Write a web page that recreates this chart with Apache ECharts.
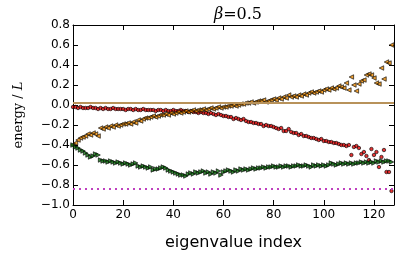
<!DOCTYPE html>
<html><head><meta charset="utf-8">
<script src="https://cdn.jsdelivr.net/npm/echarts@6/dist/echarts.min.js"></script>
<style>html,body{margin:0;padding:0;background:#fff}#c{width:415px;height:257px}</style>
</head><body><div id="c"></div>
<script>
// series values, one per eigenvalue index 0..127
const redCircles = [
-0.02,-0.02,-0.03,-0.02,-0.03,-0.03,-0.03,-0.02,-0.03,-0.03,
-0.04,-0.03,-0.04,-0.03,-0.04,-0.04,-0.03,-0.04,-0.04,-0.04,
-0.04,-0.05,-0.04,-0.04,-0.05,-0.04,-0.05,-0.05,-0.04,-0.05,
-0.05,-0.05,-0.05,-0.06,-0.05,-0.05,-0.06,-0.05,-0.06,-0.06,
-0.05,-0.06,-0.06,-0.05,-0.06,-0.06,-0.07,-0.06,-0.07,-0.07,
-0.08,-0.07,-0.08,-0.08,-0.09,-0.08,-0.09,-0.10,-0.09,-0.10,
-0.11,-0.11,-0.12,-0.12,-0.14,-0.13,-0.14,-0.15,-0.14,-0.16,
-0.17,-0.17,-0.18,-0.18,-0.19,-0.19,-0.21,-0.20,-0.21,-0.21,
-0.22,-0.23,-0.24,-0.23,-0.26,-0.26,-0.24,-0.27,-0.28,-0.28,
-0.30,-0.29,-0.31,-0.31,-0.32,-0.33,-0.33,-0.34,-0.35,-0.34,
-0.36,-0.36,-0.37,-0.37,-0.38,-0.38,-0.39,-0.40,-0.40,-0.41,
-0.40,-0.50,-0.42,-0.41,-0.43,-0.49,-0.47,-0.51,-0.55,-0.44,
-0.50,-0.47,-0.62,-0.52,-0.45,-0.67,-0.67,-0.86];
const orangeTriangles = [
-0.40,-0.38,-0.35,-0.33,-0.32,-0.31,-0.29,-0.30,-0.28,-0.29,
-0.31,-0.23,-0.24,-0.22,-0.23,-0.21,-0.22,-0.20,-0.21,-0.20,
-0.19,-0.19,-0.18,-0.19,-0.17,-0.18,-0.15,-0.16,-0.14,-0.13,
-0.13,-0.12,-0.11,-0.12,-0.11,-0.10,-0.10,-0.09,-0.10,-0.08,
-0.09,-0.08,-0.07,-0.08,-0.07,-0.06,-0.07,-0.06,-0.05,-0.06,
-0.05,-0.05,-0.04,-0.05,-0.04,-0.03,-0.04,-0.03,-0.02,-0.03,
-0.02,-0.02,-0.01,-0.01,0.00,-0.01,0.00,0.01,0.01,0.02,
0.02,0.03,0.02,0.03,0.04,0.04,0.05,0.03,0.04,0.05,
0.06,0.05,0.07,0.06,0.08,0.07,0.10,0.08,0.09,0.08,
0.10,0.09,0.11,0.10,0.12,0.13,0.12,0.13,0.14,0.13,
0.15,0.16,0.15,0.17,0.16,0.17,0.19,0.18,0.17,0.22,
0.15,0.28,0.20,0.14,0.21,0.24,0.25,0.30,0.31,0.30,
0.27,0.22,0.21,0.37,0.26,0.43,0.42,0.60];
const greenTriangles = [
-0.40,-0.42,-0.43,-0.45,-0.46,-0.48,-0.50,-0.52,-0.51,-0.49,
-0.50,-0.55,-0.56,-0.56,-0.57,-0.56,-0.57,-0.58,-0.57,-0.58,
-0.59,-0.58,-0.59,-0.60,-0.59,-0.58,-0.61,-0.62,-0.61,-0.62,
-0.63,-0.62,-0.65,-0.64,-0.64,-0.63,-0.62,-0.63,-0.65,-0.66,
-0.67,-0.68,-0.69,-0.70,-0.70,-0.71,-0.69,-0.68,-0.69,-0.67,
-0.68,-0.67,-0.66,-0.68,-0.67,-0.69,-0.67,-0.68,-0.66,-0.70,
-0.67,-0.66,-0.65,-0.66,-0.67,-0.65,-0.66,-0.64,-0.65,-0.64,
-0.65,-0.64,-0.63,-0.64,-0.63,-0.63,-0.62,-0.63,-0.62,-0.62,
-0.61,-0.62,-0.62,-0.61,-0.62,-0.61,-0.61,-0.62,-0.61,-0.61,
-0.60,-0.61,-0.61,-0.60,-0.61,-0.62,-0.60,-0.61,-0.60,-0.61,
-0.60,-0.61,-0.60,-0.58,-0.59,-0.60,-0.59,-0.58,-0.59,-0.58,
-0.59,-0.58,-0.59,-0.58,-0.58,-0.57,-0.58,-0.57,-0.58,-0.57,
-0.58,-0.56,-0.57,-0.56,-0.57,-0.56,-0.56,-0.57];
const upperLevel = 0.02;
const lowerLevel = -0.84;
const xTicks = [0, 20, 40, 60, 80, 100, 120];
const yTicks = [-1.0, -0.8, -0.6, -0.4, -0.2, 0.0, 0.2, 0.4, 0.6, 0.8];

const pts = arr => arr.map((v, i) => [i, v]);
const fmtY = v => { let s = (Math.round(v * 10) / 10).toFixed(1); if (s === '-0.0') s = '0.0'; return s.replace('-', '\u2212'); };

const chart = echarts.init(document.getElementById('c'), null, {renderer: 'canvas'});
const axisCommon = {
  axisLine: {show: true, onZero: false, lineStyle: {color: '#000', width: 1}},
  axisTick: {show: true, inside: true, length: 5, lineStyle: {color: '#000', width: 1}},
  splitLine: {show: false}
};
chart.setOption({
  animation: false,
  backgroundColor: '#fff',
  title: {
    text: '{i|β}{n|=0.5}', left: 233, top: 2, textAlign: 'center',
    textStyle: {fontWeight: 'normal', rich: {
      i: {fontFamily: 'DejaVu Serif', fontStyle: 'italic', fontWeight: 'normal', fontSize: 16, color: '#000'},
      n: {fontFamily: 'DejaVu Serif', fontWeight: 'normal', fontSize: 16, color: '#000'}
    }}
  },
  grid: {left: 73, right: 21, top: 25, bottom: 52},
  xAxis: [
    Object.assign({}, axisCommon, {
      type: 'value', min: 0, max: 128, interval: 20, position: 'bottom',
      axisLabel: {show: true, color: '#000', fontFamily: 'DejaVu Sans', fontSize: 12, margin: 4,
        customValues: xTicks},
      axisTick: Object.assign({}, axisCommon.axisTick, {customValues: xTicks}),
      name: 'eigenvalue index', nameLocation: 'middle', nameGap: 30,
      nameTextStyle: {color: '#000', fontFamily: 'DejaVu Sans', fontSize: 16}
    }),
    Object.assign({}, axisCommon, {
      type: 'value', min: 0, max: 128, interval: 20, position: 'top',
      axisLabel: {show: false},
      axisTick: Object.assign({}, axisCommon.axisTick, {customValues: xTicks})
    })
  ],
  yAxis: [
    Object.assign({}, axisCommon, {
      type: 'value', min: -1, max: 0.8, interval: 0.2, position: 'left',
      axisLabel: {show: true, color: '#000', fontFamily: 'DejaVu Sans', fontSize: 12, margin: 3,
        formatter: fmtY, customValues: yTicks},
      axisTick: Object.assign({}, axisCommon.axisTick, {customValues: yTicks}),
      name: '{n|energy}{n| / }{i|L}', nameLocation: 'middle', nameGap: 48, nameRotate: 90,
      nameTextStyle: {rich: {
        n: {fontFamily: 'DejaVu Serif', fontSize: 13, color: '#000'},
        i: {fontFamily: 'DejaVu Serif', fontStyle: 'italic', fontSize: 13, color: '#000'}
      }}
    }),
    Object.assign({}, axisCommon, {
      type: 'value', min: -1, max: 0.8, interval: 0.2, position: 'right',
      axisLabel: {show: false},
      axisTick: Object.assign({}, axisCommon.axisTick, {customValues: yTicks})
    })
  ],
  series: [
    {
      type: 'line', data: [], xAxisIndex: 0, yAxisIndex: 0, silent: true,
      markLine: {silent: true, symbol: 'none', label: {show: false}, animation: false,
        data: [
          {yAxis: upperLevel, lineStyle: {color: '#b8925a', width: 2, type: 'solid'}},
          {yAxis: lowerLevel, lineStyle: {color: '#bf40bf', width: 2, type: [2, 4]}}
        ]}
    },
    {
      type: 'scatter', data: pts(redCircles), symbol: 'circle', symbolSize: 3.5,
      itemStyle: {color: '#e00000', borderColor: '#000', borderWidth: 0.8}, z: 3
    },
    {
      type: 'scatter', data: pts(orangeTriangles), symbol: 'triangle', symbolSize: 4.5, symbolRotate: 90,
      itemStyle: {color: '#ec8a00', borderColor: '#000', borderWidth: 0.8}, z: 4
    },
    {
      type: 'scatter', data: pts(greenTriangles), symbol: 'triangle', symbolSize: 4.5, symbolRotate: -90,
      itemStyle: {color: '#0a6e0a', borderColor: '#000', borderWidth: 0.8}, z: 4
    }
  ]
});
</script></body></html>
